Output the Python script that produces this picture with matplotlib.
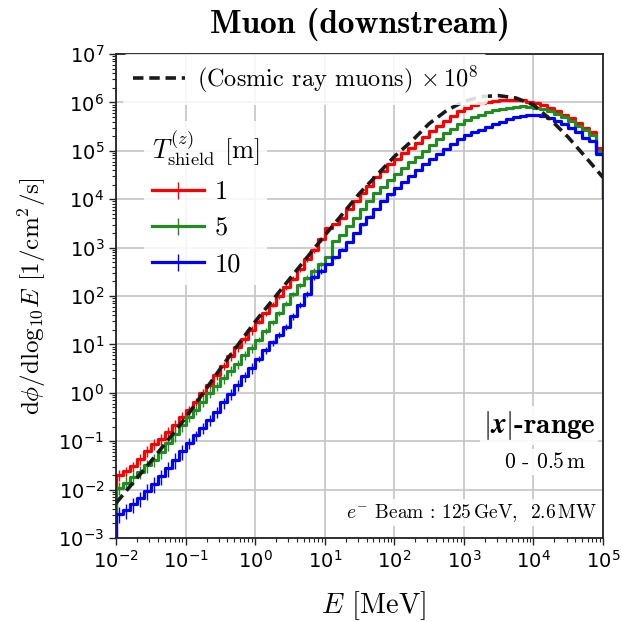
import matplotlib
matplotlib.use('Agg')
import matplotlib.pyplot as plt
import numpy as np
from matplotlib.font_manager import FontProperties
from matplotlib.legend_handler import HandlerTuple, HandlerErrorbar
from matplotlib.container import ErrorbarContainer

# histogram: 10 bins per decade, 1e-2 .. 1e5 MeV, values as log10(dphi/dlog10E)
log_edges = np.linspace(-2, 5, 71)

log_red = [-1.70, -1.62, -1.52, -1.36, -1.20, -1.06, -0.95, -0.80, -0.66, -0.50,
           -0.36, -0.18, 0.00, 0.17, 0.36, 0.56, 0.76, 0.94, 1.12, 1.30,
           1.47, 1.64, 1.82, 2.00, 2.18, 2.36, 2.56, 2.76, 2.95, 3.18,
           3.40, 3.48, 3.62, 3.80, 3.96, 4.12, 4.28, 4.45, 4.58, 4.72,
           4.84, 4.95, 5.06, 5.16, 5.28, 5.40, 5.52, 5.62, 5.72, 5.82,
           5.88, 5.94, 5.98, 6.01, 6.03, 6.04, 6.05, 6.05, 6.04, 6.01,
           5.98, 5.94, 5.89, 5.82, 5.75, 5.68, 5.58, 5.48, 5.38, 5.05]

log_green = [-1.96, -1.86, -1.74, -1.63, -1.50, -1.38, -1.22, -1.04, -0.86, -0.66,
             -0.50, -0.36, -0.18, 0.00, 0.14, 0.30, 0.46, 0.60, 0.78, 0.92,
             1.10, 1.28, 1.46, 1.64, 1.84, 2.04, 2.22, 2.38, 2.52, 2.66,
             2.80, 3.14, 3.26, 3.44, 3.62, 3.80, 3.96, 4.12, 4.26, 4.40,
             4.52, 4.64, 4.76, 4.88, 5.00, 5.12, 5.24, 5.36, 5.46, 5.56,
             5.64, 5.70, 5.75, 5.80, 5.84, 5.87, 5.89, 5.91, 5.92, 5.91,
             5.89, 5.86, 5.82, 5.76, 5.70, 5.62, 5.52, 5.42, 5.32, 5.00]

log_blue = [-2.50, -2.42, -2.30, -2.18, -2.02, -1.88, -1.72, -1.56, -1.38, -1.20,
            -1.04, -0.88, -0.72, -0.56, -0.40, -0.20, -0.02, 0.16, 0.34, 0.52,
            0.70, 0.88, 1.04, 1.20, 1.36, 1.58, 1.82, 2.04, 2.40, 2.52,
            2.66, 2.80, 2.96, 3.12, 3.30, 3.48, 3.64, 3.80, 3.96, 4.10,
            4.24, 4.36, 4.48, 4.60, 4.72, 4.84, 4.94, 5.04, 5.14, 5.24,
            5.32, 5.38, 5.44, 5.50, 5.55, 5.60, 5.65, 5.69, 5.72, 5.74,
            5.74, 5.72, 5.68, 5.62, 5.56, 5.48, 5.38, 5.26, 5.20, 4.93]

# value the step line drops to at the upper edge
log_end = 4.04

# relative errors per decade
err_red = [0.25, 0.20, 0.12, 0.05, 0.02, 0.01, 0.01]
err_green = [0.30, 0.22, 0.12, 0.05, 0.02, 0.01, 0.01]
err_blue = [0.35, 0.25, 0.15, 0.06, 0.02, 0.01, 0.01]

# cosmic ray muons (x 1e8)
cosmic_logE = [-2, -1.5, -1, -0.5, 0, 0.5, 1, 1.5, 2, 2.25, 2.5, 2.75, 3, 3.25,
               3.5, 3.75, 4, 4.25, 4.5, 4.75, 5]
cosmic_log = [-2.28, -1.42, -0.52, 0.50, 1.47, 2.36, 3.25, 4.12, 4.88, 5.20, 5.56,
              5.83, 6.02, 6.12, 6.14, 6.09, 5.95, 5.64, 5.28, 4.87, 4.45]

shield = ['1', '5', '10']
colors = ['#ff0000', '#228b22', '#0000ff']

plt.rcParams['mathtext.fontset'] = 'dejavusans'

fig = plt.figure(figsize=(6.22, 6.22), dpi=100)
ax = fig.add_axes([116/622, 1-538/622, 487/622, 484/622])

edges = 10**log_edges
centers = 10**((log_edges[:-1] + log_edges[1:]) / 2)

handles = []
for logv, err, c, lab in zip([log_red, log_green, log_blue],
                             [err_red, err_green, err_blue], colors, shield):
    vals = 10**np.array(logv)
    x = np.concatenate([[edges[0]], edges])
    y = np.concatenate([[1e-6], vals, [10**log_end]])
    line, = ax.step(x, y, where='post', color=c, lw=2.3)
    yerr = vals * np.repeat(err, 10)
    eb = ax.errorbar(centers, vals, yerr=yerr, fmt='none', ecolor=c, elinewidth=1.0)
    handles.append((line, eb))

cos, = ax.plot(10**np.array(cosmic_logE), 10**np.array(cosmic_log), color='#1a1a1a',
               lw=2.6, dashes=(2.9, 1.6), zorder=5)

ax.set_xscale('log')
ax.set_yscale('log')
ax.set_xlim(1e-2, 1e5)
ax.set_ylim(1e-3, 1e7)
ax.set_xticks(10.0**np.arange(-2, 6))
ax.set_yticks(10.0**np.arange(-3, 8))
ax.xaxis.set_minor_locator(matplotlib.ticker.LogLocator(base=10, subs=np.arange(2, 10), numticks=20))
ax.yaxis.set_minor_locator(matplotlib.ticker.LogLocator(base=10, subs=np.arange(2, 10), numticks=20))
ax.yaxis.set_minor_formatter(matplotlib.ticker.NullFormatter())
ax.xaxis.set_minor_formatter(matplotlib.ticker.NullFormatter())
ax.tick_params(which='major', length=5, width=1.0, labelsize=14, color='#222222')
ax.tick_params(which='minor', length=3, width=0.8, color='#222222')
ax.grid(True, which='major', color='#c8c8c8', lw=1.3)
ax.set_axisbelow(True)
for s in ax.spines.values():
    s.set_color('#222222')
    s.set_linewidth(1.3)

ax.set_title('Muon (downstream)', fontfamily='cmb10', fontsize=24, pad=15)
ax.set_xlabel(r'$E$ [MeV]', fontfamily='cmr10', math_fontfamily='cm', fontsize=20.5)
ax.xaxis.set_label_coords(0.529, -0.106)
ax.set_ylabel(r'd$\phi$/dlog$_{10}E$ [1/cm$^2$/s]', fontfamily='cmr10', math_fontfamily='cm',
              fontsize=18, labelpad=7)

fp = FontProperties(family='cmr10', size=17.5, math_fontfamily='cm')
leg1 = ax.legend([cos], [r'(Cosmic ray muons) $\times\,10^8$'], loc='upper left',
                 bbox_to_anchor=(0.014, 1.0), prop=fp, frameon=True, framealpha=0.85,
                 edgecolor='none', handlelength=2.14, handletextpad=0.5,
                 borderpad=0.4, borderaxespad=0)
ax.add_artist(leg1)
fp2 = FontProperties(family='cmr10', size=19, math_fontfamily='cm')
leg2 = ax.legend(handles, shield, loc='upper left', bbox_to_anchor=(0.057, 0.862),
                 prop=fp2, title=r'$T^{(z)}_{\mathrm{shield}}$ [m]', title_fontproperties=fp2,
                 frameon=True, framealpha=0.85, edgecolor='none', handlelength=1.97,
                 handletextpad=0.4, labelspacing=0.47, borderaxespad=0,
                 handler_map={tuple: HandlerTuple(ndivide=1),
                              ErrorbarContainer: HandlerErrorbar(yerr_size=0.32)},
                 alignment='left', borderpad=0.3)

box = dict(facecolor='white', edgecolor='none', alpha=0.9, pad=2)
ax.text(0.984, 0.233, r'$|\boldsymbol{x}|$-range', transform=ax.transAxes, ha='right',
        va='center', fontfamily='cmb10', math_fontfamily='cm', fontsize=21, bbox=box)
ax.text(0.966, 0.157, r'0 - 0.5$\,$m', transform=ax.transAxes, ha='right', va='center',
        fontfamily='cmr10', math_fontfamily='cm', fontsize=15.5, bbox=box)
ax.text(0.988, 0.052, r'$e^{-}$ Beam : 125$\,$GeV,  2.6$\,$MW', transform=ax.transAxes,
        ha='right', va='center', fontfamily='cmr10', math_fontfamily='cm', fontsize=14, bbox=box)

fig.savefig('out.png', dpi=100)
